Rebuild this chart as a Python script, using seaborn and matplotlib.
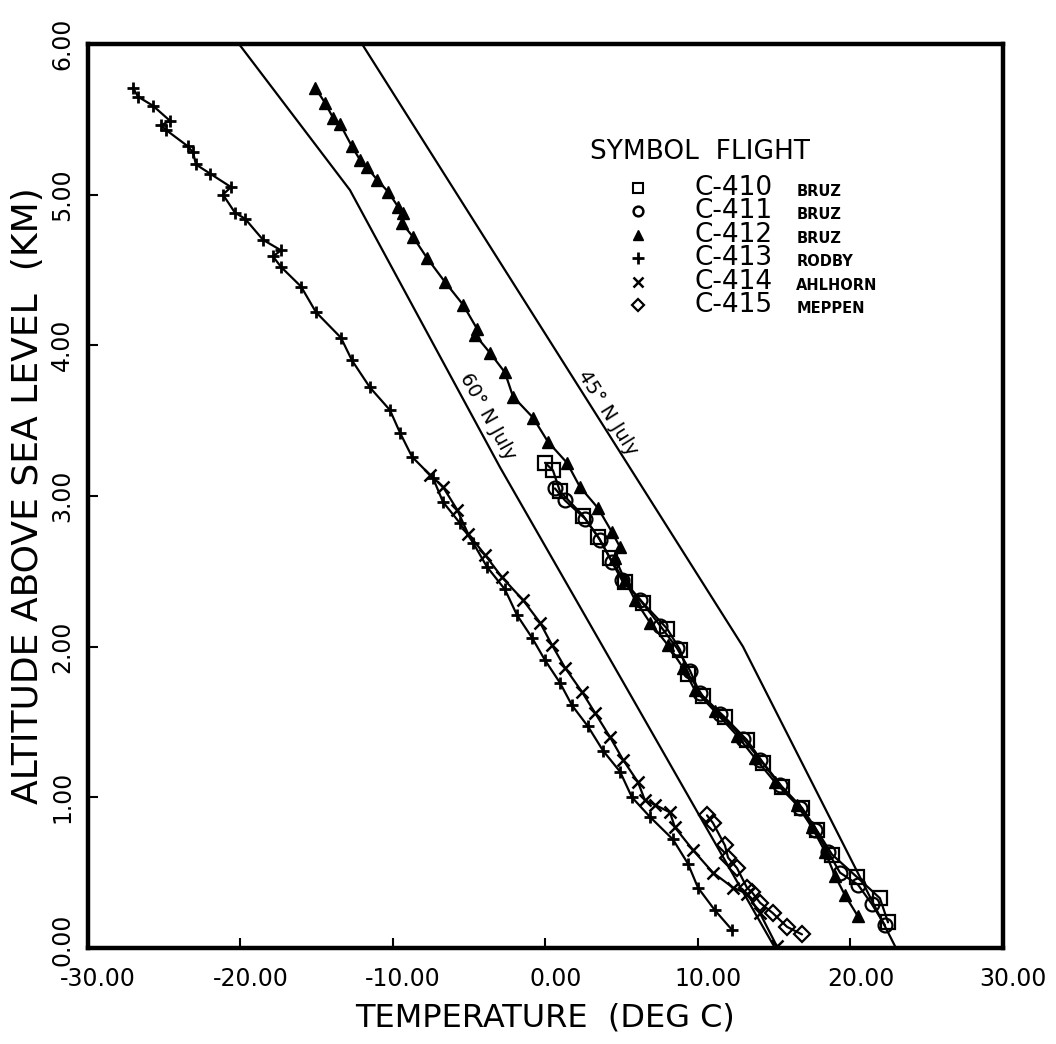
import numpy as np
import pandas as pd
import matplotlib
matplotlib.use("Agg")
import matplotlib.pyplot as plt
import matplotlib.transforms as mtransforms
import seaborn as sns

# ---------------- data (temperature degC, altitude km) ----------------
t_413 = [-27.05, -26.72, -25.74, -24.62, -25.21, -24.89, -23.44, -23.11, -22.92, -22.00,
         -20.62, -21.15, -20.36, -19.70, -18.52, -17.34, -17.87, -17.34, -16.03, -15.05,
         -13.41, -12.69, -11.51, -10.20, -9.54, -8.75, -7.38, -6.72, -5.61, -4.75,
         -3.84, -2.66, -1.87, -0.89, -0.03, 0.95, 1.74, 2.79, 3.77, 4.89,
         5.67, 6.85, 8.36, 9.34, 10.00, 11.11, 12.23]
z_413 = [5.71, 5.65, 5.59, 5.49, 5.46, 5.43, 5.32, 5.28, 5.20, 5.14,
         5.05, 5.00, 4.88, 4.84, 4.70, 4.63, 4.59, 4.52, 4.39, 4.22,
         4.05, 3.90, 3.72, 3.57, 3.42, 3.26, 3.12, 2.96, 2.82, 2.69,
         2.53, 2.38, 2.21, 2.06, 1.91, 1.76, 1.61, 1.47, 1.31, 1.17,
         1.00, 0.87, 0.72, 0.56, 0.40, 0.25, 0.12]

t_414 = [-7.57, -6.72, -5.80, -5.08, -3.97, -2.85, -1.48, -0.36, 0.43, 1.28,
         2.39, 3.25, 4.23, 5.08, 6.07, 6.52, 7.18, 8.16, 8.49, 9.67,
         10.98, 12.30, 13.21, 14.07, 15.18]
z_414 = [3.14, 3.06, 2.91, 2.75, 2.61, 2.46, 2.31, 2.16, 2.01, 1.86,
         1.70, 1.56, 1.40, 1.25, 1.10, 0.98, 0.95, 0.90, 0.80, 0.65,
         0.50, 0.40, 0.36, 0.23, 0.01]

t_415 = [10.59, 10.98, 11.77, 11.97, 12.56, 13.21, 13.54, 14.07, 14.92, 15.84, 16.82]
z_415 = [0.88, 0.83, 0.68, 0.60, 0.53, 0.40, 0.37, 0.30, 0.23, 0.14, 0.09]

t_412 = [-15.11, -14.46, -13.93, -13.48, -12.69, -12.16, -11.70, -11.05, -10.33, -9.67,
         -9.34, -9.41, -8.69, -7.77, -6.59, -5.41, -4.49, -4.62, -3.64, -2.66,
         -2.13, -0.82, 0.16, 1.41, 2.26, 3.44, 4.36, 4.89, 4.56, 5.21,
         5.87, 6.85, 8.03, 9.02, 9.80, 11.11, 12.56, 13.74, 15.05, 16.49,
         17.48, 18.33, 18.98, 19.64, 20.49]
z_412 = [5.71, 5.61, 5.51, 5.47, 5.32, 5.23, 5.18, 5.10, 5.02, 4.92,
         4.88, 4.81, 4.72, 4.58, 4.42, 4.27, 4.11, 4.07, 3.95, 3.82,
         3.66, 3.52, 3.36, 3.22, 3.06, 2.92, 2.76, 2.66, 2.59, 2.44,
         2.31, 2.16, 2.01, 1.86, 1.71, 1.57, 1.41, 1.26, 1.10, 0.95,
         0.80, 0.64, 0.48, 0.35, 0.21]

t_410 = [-0.03, 0.49, 0.95, 2.46, 3.44, 4.23, 5.21, 6.39, 7.97, 8.82,
         9.34, 10.33, 11.77, 13.21, 14.26, 15.51, 16.82, 17.80, 18.79, 20.43,
         21.93, 22.46]
z_410 = [3.22, 3.17, 3.03, 2.87, 2.73, 2.59, 2.43, 2.29, 2.12, 1.98,
         1.82, 1.67, 1.53, 1.38, 1.23, 1.07, 0.93, 0.78, 0.62, 0.47,
         0.33, 0.17]

t_411 = [0.62, 1.28, 2.59, 3.57, 4.36, 5.02, 6.20, 7.51, 8.62, 9.48,
         10.13, 11.44, 12.95, 14.07, 15.38, 16.69, 17.67, 18.52, 19.31, 20.49,
         21.41, 22.26]
z_411 = [3.05, 2.97, 2.85, 2.71, 2.56, 2.44, 2.31, 2.14, 1.99, 1.84,
         1.69, 1.55, 1.39, 1.25, 1.08, 0.93, 0.78, 0.64, 0.50, 0.42,
         0.29, 0.15]

# standard July profiles
t_45n = [-12.03, 12.95, 22.98]
z_45n = [6.00, 2.00, 0.00]
t_60n = [-20.10, -12.82, -2.98, 5.74, 15.05]
z_60n = [6.00, 5.03, 3.19, 1.65, 0.00]

flights = ["C-410", "C-411", "C-412", "C-413", "C-414", "C-415"]
bases = ["BRUZ", "BRUZ", "BRUZ", "RODBY", "AHLHORN", "MEPPEN"]

x_ticks = [-30, -20, -10, 0, 10, 20, 30]
y_ticks = [0, 1, 2, 3, 4, 5, 6]

# ---------------- styling ----------------
sns.set_style("ticks")
plt.rcParams['font.family'] = ['DejaVu Sans']
plt.rcParams['text.color'] = 'black'
plt.rcParams['axes.labelcolor'] = 'black'
plt.rcParams['xtick.color'] = 'black'
plt.rcParams['ytick.color'] = 'black'

fig = plt.figure(figsize=(10.56, 10.44), dpi=100)
ax = fig.add_axes([0.0833, 0.0920, 0.8665, 0.8659])

series = [
    (t_410, z_410, dict(marker='s', markersize=10, mfc='none', mec='black', mew=1.6)),
    (t_411, z_411, dict(marker='o', markersize=10, mfc='none', mec='black', mew=1.6)),
    (t_412, z_412, dict(marker='^', markersize=9, mfc='black', mec='black', mew=1.0)),
    (t_413, z_413, dict(marker='+', markersize=8, mec='black', mew=2.0)),
    (t_414, z_414, dict(marker='x', markersize=9, mec='black', mew=1.8)),
    (t_415, z_415, dict(marker='D', markersize=8, mfc='none', mec='black', mew=1.6)),
]
for t, z, mk in series:
    df = pd.DataFrame({"T": t, "Z": z})
    sns.lineplot(data=df, x="T", y="Z", sort=False, estimator=None, ax=ax,
                 color='black', linewidth=1.6, **mk)

for t, z in [(t_45n, z_45n), (t_60n, z_60n)]:
    df = pd.DataFrame({"T": t, "Z": z})
    sns.lineplot(data=df, x="T", y="Z", sort=False, estimator=None, ax=ax,
                 color='black', linewidth=1.6)

ax.text(-3.8, 3.53, "60° N July", rotation=-61, ha='center', va='center',
        fontsize=14, family='DejaVu Sans')
ax.text(4.1, 3.55, "45° N July", rotation=-58, ha='center', va='center',
        fontsize=14, family='DejaVu Sans')

ax.set_xlim(-30, 30)
ax.set_ylim(0, 6)
ax.set_xticks(x_ticks)
ax.set_yticks(y_ticks)
ax.set_xticklabels([f"{v:.2f}" for v in x_ticks], fontsize=17)
ax.set_yticklabels([f"{v:.2f}" for v in y_ticks], fontsize=17, rotation=90, va='center')
ax.tick_params(direction='in', length=7, width=1.5, pad=10)
ax.tick_params(axis='x', pad=14)
shift = mtransforms.ScaledTranslation(10 / 100, 0, fig.dpi_scale_trans)
for lab in ax.get_xticklabels():
    lab.set_transform(lab.get_transform() + shift)
ylab0 = ax.get_yticklabels()[0]
ylab0.set_transform(ylab0.get_transform() +
                    mtransforms.ScaledTranslation(0, 8 / 100, fig.dpi_scale_trans))
ax.set_xlabel("TEMPERATURE  (DEG C)", fontsize=23, labelpad=8)
ax.set_ylabel("ALTITUDE ABOVE SEA LEVEL  (KM)", fontsize=26, labelpad=4)
for s in ax.spines.values():
    s.set_linewidth(3.2)
    s.set_color('black')

# legend block
ax.text(0.549, 0.880, "SYMBOL  FLIGHT", transform=ax.transAxes, fontsize=19,
        ha='left', va='center')
leg_markers = [dict(marker='s', markersize=7, mfc='none', mec='black', mew=1.5),
               dict(marker='o', markersize=7, mfc='none', mec='black', mew=1.8),
               dict(marker='^', markersize=7, mfc='black', mec='black'),
               dict(marker='+', markersize=8, mec='black', mew=2.0),
               dict(marker='x', markersize=7, mec='black', mew=1.8),
               dict(marker='D', markersize=6, mfc='none', mec='black', mew=1.6)]
rows_y = [0.841, 0.815, 0.789, 0.763, 0.737, 0.711]
for fl, bs, mk, yy in zip(flights, bases, leg_markers, rows_y):
    ax.plot([0.601], [yy], transform=ax.transAxes, linestyle='none', clip_on=False, **mk)
    ax.text(0.663, yy, fl, transform=ax.transAxes, fontsize=19, ha='left', va='center')
    ax.text(0.774, yy - 0.004, bs, transform=ax.transAxes, fontsize=10.5, ha='left',
            va='center', fontweight='bold')

fig.savefig("out.png", dpi=100)
